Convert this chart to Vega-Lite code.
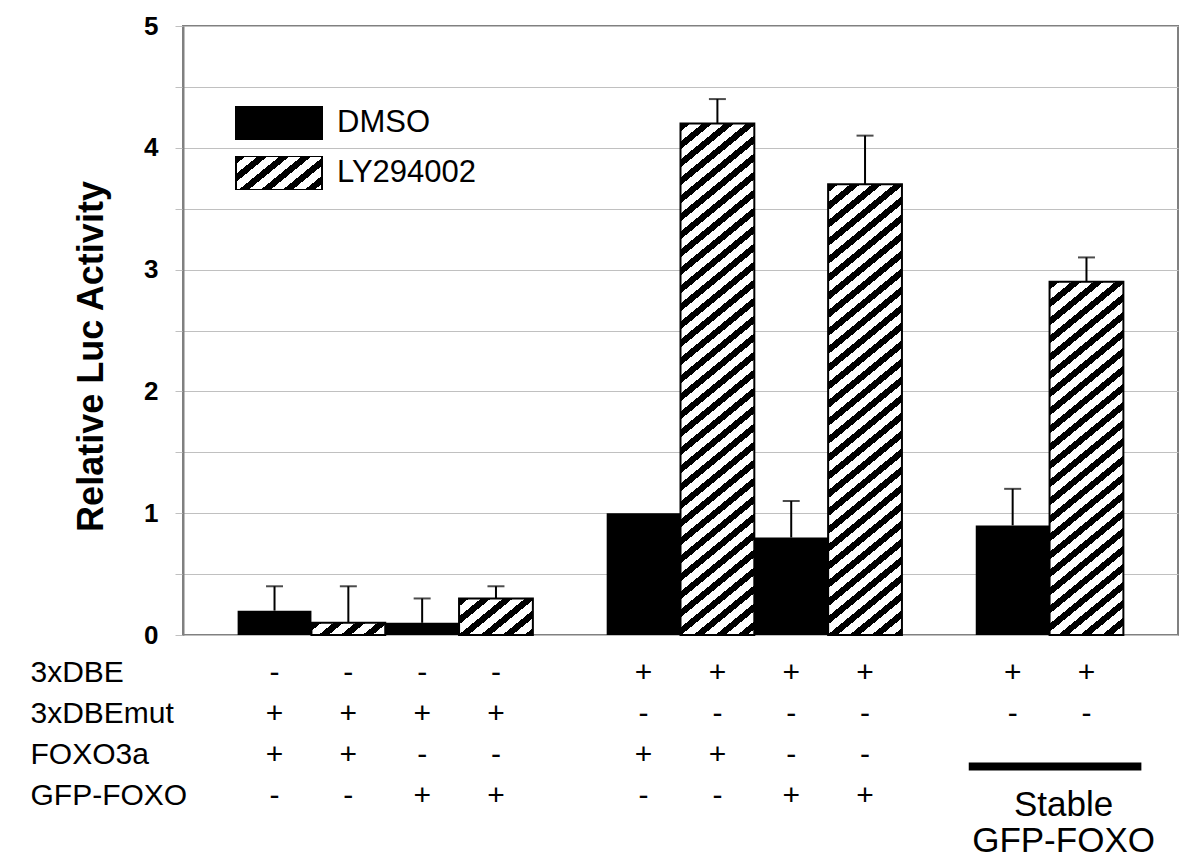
{
  "$schema": "https://vega.github.io/schema/vega-lite/v6.json",
  "padding": {"left": 30, "top": 12, "right": 0, "bottom": 0},
  "background": "white",
  "config": {
    "font": "Liberation Sans",
    "view": {"stroke": "#808080", "strokeWidth": 2},
    "concat": {"spacing": 3}
  },
  "params": [
    {"name": "hatch", "value": [
      {"offset":0,"color":"#000"},{"offset":0.01324,"color":"#000"},{"offset":0.01324,"color":"#fff"},{"offset":0.02941,"color":"#fff"},
      {"offset":0.02941,"color":"#000"},{"offset":0.04265,"color":"#000"},{"offset":0.04265,"color":"#fff"},{"offset":0.05882,"color":"#fff"},
      {"offset":0.05882,"color":"#000"},{"offset":0.07206,"color":"#000"},{"offset":0.07206,"color":"#fff"},{"offset":0.08824,"color":"#fff"},
      {"offset":0.08824,"color":"#000"},{"offset":0.10147,"color":"#000"},{"offset":0.10147,"color":"#fff"},{"offset":0.11765,"color":"#fff"},
      {"offset":0.11765,"color":"#000"},{"offset":0.13088,"color":"#000"},{"offset":0.13088,"color":"#fff"},{"offset":0.14706,"color":"#fff"},
      {"offset":0.14706,"color":"#000"},{"offset":0.16029,"color":"#000"},{"offset":0.16029,"color":"#fff"},{"offset":0.17647,"color":"#fff"},
      {"offset":0.17647,"color":"#000"},{"offset":0.18971,"color":"#000"},{"offset":0.18971,"color":"#fff"},{"offset":0.20588,"color":"#fff"},
      {"offset":0.20588,"color":"#000"},{"offset":0.21912,"color":"#000"},{"offset":0.21912,"color":"#fff"},{"offset":0.23529,"color":"#fff"},
      {"offset":0.23529,"color":"#000"},{"offset":0.24853,"color":"#000"},{"offset":0.24853,"color":"#fff"},{"offset":0.26471,"color":"#fff"},
      {"offset":0.26471,"color":"#000"},{"offset":0.27794,"color":"#000"},{"offset":0.27794,"color":"#fff"},{"offset":0.29412,"color":"#fff"},
      {"offset":0.29412,"color":"#000"},{"offset":0.30735,"color":"#000"},{"offset":0.30735,"color":"#fff"},{"offset":0.32353,"color":"#fff"},
      {"offset":0.32353,"color":"#000"},{"offset":0.33676,"color":"#000"},{"offset":0.33676,"color":"#fff"},{"offset":0.35294,"color":"#fff"},
      {"offset":0.35294,"color":"#000"},{"offset":0.36618,"color":"#000"},{"offset":0.36618,"color":"#fff"},{"offset":0.38235,"color":"#fff"},
      {"offset":0.38235,"color":"#000"},{"offset":0.39559,"color":"#000"},{"offset":0.39559,"color":"#fff"},{"offset":0.41176,"color":"#fff"},
      {"offset":0.41176,"color":"#000"},{"offset":0.425,"color":"#000"},{"offset":0.425,"color":"#fff"},{"offset":0.44118,"color":"#fff"},
      {"offset":0.44118,"color":"#000"},{"offset":0.45441,"color":"#000"},{"offset":0.45441,"color":"#fff"},{"offset":0.47059,"color":"#fff"},
      {"offset":0.47059,"color":"#000"},{"offset":0.48382,"color":"#000"},{"offset":0.48382,"color":"#fff"},{"offset":0.5,"color":"#fff"},
      {"offset":0.5,"color":"#000"},{"offset":0.51324,"color":"#000"},{"offset":0.51324,"color":"#fff"},{"offset":0.52941,"color":"#fff"},
      {"offset":0.52941,"color":"#000"},{"offset":0.54265,"color":"#000"},{"offset":0.54265,"color":"#fff"},{"offset":0.55882,"color":"#fff"},
      {"offset":0.55882,"color":"#000"},{"offset":0.57206,"color":"#000"},{"offset":0.57206,"color":"#fff"},{"offset":0.58824,"color":"#fff"},
      {"offset":0.58824,"color":"#000"},{"offset":0.60147,"color":"#000"},{"offset":0.60147,"color":"#fff"},{"offset":0.61765,"color":"#fff"},
      {"offset":0.61765,"color":"#000"},{"offset":0.63088,"color":"#000"},{"offset":0.63088,"color":"#fff"},{"offset":0.64706,"color":"#fff"},
      {"offset":0.64706,"color":"#000"},{"offset":0.66029,"color":"#000"},{"offset":0.66029,"color":"#fff"},{"offset":0.67647,"color":"#fff"},
      {"offset":0.67647,"color":"#000"},{"offset":0.68971,"color":"#000"},{"offset":0.68971,"color":"#fff"},{"offset":0.70588,"color":"#fff"},
      {"offset":0.70588,"color":"#000"},{"offset":0.71912,"color":"#000"},{"offset":0.71912,"color":"#fff"},{"offset":0.73529,"color":"#fff"},
      {"offset":0.73529,"color":"#000"},{"offset":0.74853,"color":"#000"},{"offset":0.74853,"color":"#fff"},{"offset":0.76471,"color":"#fff"},
      {"offset":0.76471,"color":"#000"},{"offset":0.77794,"color":"#000"},{"offset":0.77794,"color":"#fff"},{"offset":0.79412,"color":"#fff"},
      {"offset":0.79412,"color":"#000"},{"offset":0.80735,"color":"#000"},{"offset":0.80735,"color":"#fff"},{"offset":0.82353,"color":"#fff"},
      {"offset":0.82353,"color":"#000"},{"offset":0.83676,"color":"#000"},{"offset":0.83676,"color":"#fff"},{"offset":0.85294,"color":"#fff"},
      {"offset":0.85294,"color":"#000"},{"offset":0.86618,"color":"#000"},{"offset":0.86618,"color":"#fff"},{"offset":0.88235,"color":"#fff"},
      {"offset":0.88235,"color":"#000"},{"offset":0.89559,"color":"#000"},{"offset":0.89559,"color":"#fff"},{"offset":0.91176,"color":"#fff"},
      {"offset":0.91176,"color":"#000"},{"offset":0.925,"color":"#000"},{"offset":0.925,"color":"#fff"},{"offset":0.94118,"color":"#fff"},
      {"offset":0.94118,"color":"#000"},{"offset":0.95441,"color":"#000"},{"offset":0.95441,"color":"#fff"},{"offset":0.97059,"color":"#fff"},
      {"offset":0.97059,"color":"#000"},{"offset":0.98382,"color":"#000"},{"offset":0.98382,"color":"#fff"},{"offset":1,"color":"#fff"}
    ]}
  ],
  "datasets": {
    "bars": [
      {"cond": "c1", "treatment": "DMSO", "value": 0.2, "upper": 0.4},
      {"cond": "c2", "treatment": "LY294002", "value": 0.1, "upper": 0.4},
      {"cond": "c3", "treatment": "DMSO", "value": 0.1, "upper": 0.3},
      {"cond": "c4", "treatment": "LY294002", "value": 0.3, "upper": 0.4},
      {"cond": "c5", "treatment": "DMSO", "value": 1.0, "upper": 1.0},
      {"cond": "c6", "treatment": "LY294002", "value": 4.2, "upper": 4.4},
      {"cond": "c7", "treatment": "DMSO", "value": 0.8, "upper": 1.1},
      {"cond": "c8", "treatment": "LY294002", "value": 3.7, "upper": 4.1},
      {"cond": "c9", "treatment": "DMSO", "value": 0.9, "upper": 1.2},
      {"cond": "c10", "treatment": "LY294002", "value": 2.9, "upper": 3.1}
    ],
    "table": [
      {"cond": "c1", "row": "3xDBE", "sign": "-"}, {"cond": "c1", "row": "3xDBEmut", "sign": "+"}, {"cond": "c1", "row": "FOXO3a", "sign": "+"}, {"cond": "c1", "row": "GFP-FOXO", "sign": "-"},
      {"cond": "c2", "row": "3xDBE", "sign": "-"}, {"cond": "c2", "row": "3xDBEmut", "sign": "+"}, {"cond": "c2", "row": "FOXO3a", "sign": "+"}, {"cond": "c2", "row": "GFP-FOXO", "sign": "-"},
      {"cond": "c3", "row": "3xDBE", "sign": "-"}, {"cond": "c3", "row": "3xDBEmut", "sign": "+"}, {"cond": "c3", "row": "FOXO3a", "sign": "-"}, {"cond": "c3", "row": "GFP-FOXO", "sign": "+"},
      {"cond": "c4", "row": "3xDBE", "sign": "-"}, {"cond": "c4", "row": "3xDBEmut", "sign": "+"}, {"cond": "c4", "row": "FOXO3a", "sign": "-"}, {"cond": "c4", "row": "GFP-FOXO", "sign": "+"},
      {"cond": "c5", "row": "3xDBE", "sign": "+"}, {"cond": "c5", "row": "3xDBEmut", "sign": "-"}, {"cond": "c5", "row": "FOXO3a", "sign": "+"}, {"cond": "c5", "row": "GFP-FOXO", "sign": "-"},
      {"cond": "c6", "row": "3xDBE", "sign": "+"}, {"cond": "c6", "row": "3xDBEmut", "sign": "-"}, {"cond": "c6", "row": "FOXO3a", "sign": "+"}, {"cond": "c6", "row": "GFP-FOXO", "sign": "-"},
      {"cond": "c7", "row": "3xDBE", "sign": "+"}, {"cond": "c7", "row": "3xDBEmut", "sign": "-"}, {"cond": "c7", "row": "FOXO3a", "sign": "-"}, {"cond": "c7", "row": "GFP-FOXO", "sign": "+"},
      {"cond": "c8", "row": "3xDBE", "sign": "+"}, {"cond": "c8", "row": "3xDBEmut", "sign": "-"}, {"cond": "c8", "row": "FOXO3a", "sign": "-"}, {"cond": "c8", "row": "GFP-FOXO", "sign": "+"},
      {"cond": "c9", "row": "3xDBE", "sign": "+"}, {"cond": "c9", "row": "3xDBEmut", "sign": "-"},
      {"cond": "c10", "row": "3xDBE", "sign": "+"}, {"cond": "c10", "row": "3xDBEmut", "sign": "-"}
    ],
    "stableBar": [{"from": "c9", "to": "c10", "row": "FOXO3a"}],
    "stableText1": [{"cond": "c9", "row": "GFP-FOXO", "label": "Stable"}],
    "stableText2": [{"cond": "c9", "row": " ", "label": "GFP-FOXO"}]
  },
  "vconcat": [
    {
      "width": 995,
      "height": 609,
      "data": {"name": "bars"},
      "encoding": {
        "x": {
          "field": "cond", "type": "nominal",
          "scale": {"domain": ["c1","c2","c3","c4","g1","c5","c6","c7","c8","g2","c9","c10"], "paddingInner": 0, "paddingOuter": 0.74},
          "axis": null
        }
      },
      "layer": [
        {
          "mark": {"type": "bar"},
          "encoding": {
            "y": {
              "field": "value", "type": "quantitative", "title": "Relative Luc Activity",
              "scale": {"domain": [0, 5], "nice": false},
              "axis": {
                "values": [0, 0.5, 1, 1.5, 2, 2.5, 3, 3.5, 4, 4.5, 5],
                "labelExpr": "datum.value % 1 == 0 ? format(datum.value, 'd') : ''",
                "titleFontSize": 36, "titleFont": "Liberation Sans", "titleFontWeight": "bold", "titleColor": "#000",
                "titlePadding": 33, "titleY": 330,
                "labelFontSize": 26, "labelFontWeight": "bold", "labelColor": "#000", "labelFont": "Liberation Sans",
                "labelPadding": 17, "tickSize": 8, "tickColor": "#c0c0c0",
                "gridColor": "#c0c0c0", "domainColor": "#808080", "domainWidth": 2
              }
            },
            "fill": {
              "field": "treatment", "type": "nominal",
              "scale": {
                "domain": ["DMSO", "LY294002"],
                "range": [
                  "#000000",
                  {"expr": "{gradient: 'linear', x1: 0, y1: 0, x2: 7.05, y2: 3.407, stops: hatch}"}
                ]
              },
              "legend": {
                "orient": "none", "legendX": 52, "legendY": 80, "title": null,
                "symbolType": "M-1,-0.395H1V0.395H-1Z", "symbolSize": 7396,
                "symbolStrokeColor": "#000", "symbolStrokeWidth": 2,
                "labelFontSize": 31, "labelFont": "Liberation Sans", "labelColor": "#000",
                "labelOffset": 14, "rowPadding": 16, "clipHeight": 34
              }
            }
          }
        },
        {
          "transform": [{"filter": "datum.treatment == 'LY294002'"}],
          "mark": {
            "type": "bar", "stroke": "#000", "strokeWidth": 2,
            "fill": {"expr": "{gradient: 'linear', x1: 0, y1: 0, x2: 114.05 / (11.253 + pow(6.7667 * datum.value, 2)), y2: 230.07 * datum.value / (11.253 + pow(6.7667 * datum.value, 2)), stops: hatch}"}
          },
          "encoding": {
            "y": {"field": "value", "type": "quantitative", "title": "Relative Luc Activity"}
          }
        },
        {
          "transform": [{"filter": "datum.upper > datum.value"}],
          "mark": {"type": "rule", "color": "#000", "strokeWidth": 2},
          "encoding": {
            "y": {"field": "value", "type": "quantitative", "title": "Relative Luc Activity"},
            "y2": {"field": "upper"}
          }
        },
        {
          "transform": [{"filter": "datum.upper > datum.value"}],
          "mark": {"type": "tick", "orient": "horizontal", "size": 17, "thickness": 2, "color": "#000"},
          "encoding": {
            "y": {"field": "upper", "type": "quantitative", "title": "Relative Luc Activity"}
          }
        }
      ]
    },
    {
      "width": 995,
      "height": 205,
      "view": {"stroke": null},
      "layer": [
        {
          "data": {"name": "table"},
          "mark": {"type": "text", "fontSize": 30, "font": "Liberation Sans", "color": "#000"},
          "encoding": {
            "x": {
              "field": "cond", "type": "nominal",
              "scale": {"domain": ["c1","c2","c3","c4","g1","c5","c6","c7","c8","g2","c9","c10"], "paddingInner": 0, "paddingOuter": 0.74},
              "axis": null
            },
            "y": {
              "field": "row", "type": "nominal",
              "scale": {"type": "point", "padding": 0.5, "domain": ["3xDBE", "3xDBEmut", "FOXO3a", "GFP-FOXO", " "]},
              "axis": {
                "title": null, "domain": false, "ticks": false, "grid": false,
                "labelAlign": "left", "labelPadding": 153, "labelFontSize": 30,
                "labelFont": "Liberation Sans", "labelColor": "#000"
              }
            },
            "text": {"field": "sign"}
          }
        },
        {
          "data": {"name": "stableBar"},
          "mark": {"type": "rule", "color": "#000", "strokeWidth": 8, "yOffset": 12, "xOffset": -7, "x2Offset": 18},
          "encoding": {
            "x": {"field": "from", "type": "nominal", "bandPosition": 0},
            "x2": {"field": "to", "bandPosition": 1},
            "y": {"field": "row", "type": "nominal"}
          }
        },
        {
          "data": {"name": "stableText1"},
          "mark": {"type": "text", "fontSize": 35, "font": "Liberation Sans", "color": "#000", "dy": 9.5, "dx": 14},
          "encoding": {
            "x": {"field": "cond", "type": "nominal", "bandPosition": 1},
            "y": {"field": "row", "type": "nominal"},
            "text": {"field": "label"}
          }
        },
        {
          "data": {"name": "stableText2"},
          "mark": {"type": "text", "fontSize": 35, "font": "Liberation Sans", "color": "#000", "dy": 4.5, "dx": 14},
          "encoding": {
            "x": {"field": "cond", "type": "nominal", "bandPosition": 1},
            "y": {"field": "row", "type": "nominal"},
            "text": {"field": "label"}
          }
        }
      ]
    }
  ]
}
